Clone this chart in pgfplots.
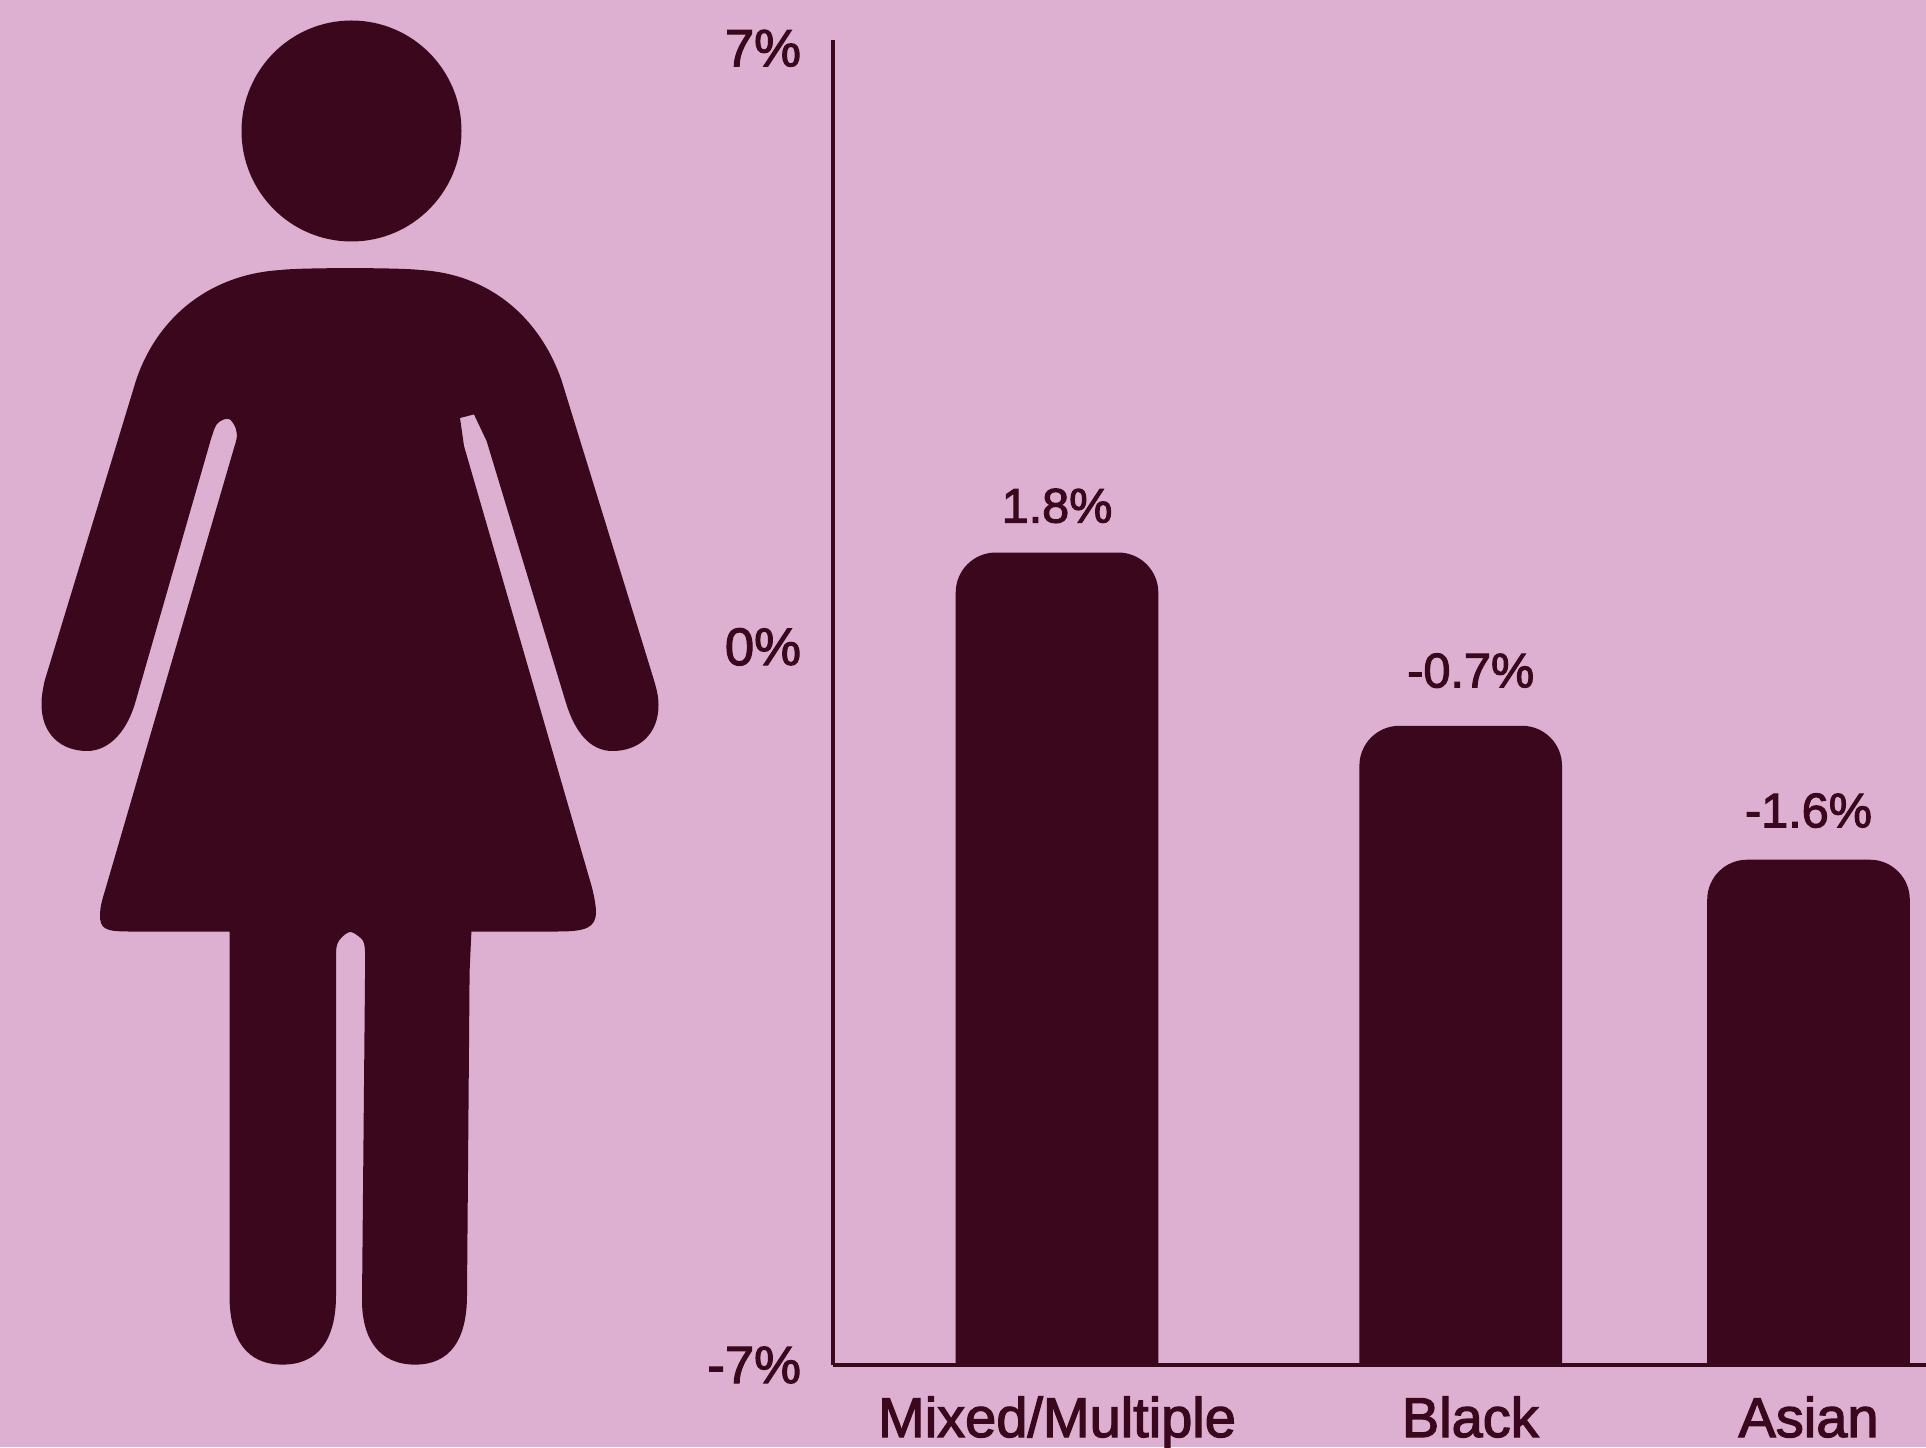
\documentclass[border=0pt]{standalone}
\usepackage{fontspec}
\setmainfont{Liberation Sans}[FakeBold=2.2]
\usepackage{pgfplots}
\pgfplotsset{compat=1.18}
\definecolor{plum}{HTML}{DDB0D1}
\definecolor{ink}{HTML}{3A071C}
\begin{document}
\begin{tikzpicture}
  % page background, 1 unit of the figure scope = 0.5pt
  \path[use as bounding box, fill=plum] (0,0) rectangle (963pt,723.5pt);

  % pictogram of a woman
  \begin{scope}[x=0.5pt, y=-0.5pt, shift={(0pt,723.5pt)}]
    \fill[ink] (351.5,131) ellipse [x radius=110, y radius=110.5];
    \fill[ink]
      (281,270) .. controls (300,267.5) and (400,267.5) .. (420,270)
      .. controls (490,274) and (540,318) .. (561.6,380.5)
      -- (652.7,676)
      .. controls (656,687) and (658.5,695) .. (658.5,705)
      .. controls (658.5,735) and (638,751) .. (612.5,751)
      .. controls (590,751) and (575,732) .. (566,703)
      -- (486.6,441)
      -- (474,414.4) -- (460,418) -- (464,446)
      -- (591.5,885.8)
      .. controls (594,895) and (596,906) .. (596,912)
      .. controls (596,928) and (585,931.5) .. (558,931.5)
      -- (471.4,931.5) -- (469.6,971.6)
      -- (467,1295)
      .. controls (467,1340) and (450,1364.6) .. (415,1364.6)
      .. controls (380,1364.6) and (362,1340) .. (362,1300)
      -- (365.2,957)
      .. controls (365,945) and (364,941) .. (361.6,939)
      .. controls (356,933.5) and (352,932) .. (350.4,932)
      .. controls (348,932) and (343,935) .. (339,940.6)
      .. controls (336,945) and (336,950) .. (336,957)
      -- (336,1295.5)
      .. controls (336,1340) and (318,1364.6) .. (282.6,1364.6)
      .. controls (247,1364.6) and (229.5,1340) .. (229.5,1295.5)
      -- (229.5,931.5)
      -- (128,931.5)
      .. controls (104,931.5) and (100,928) .. (100,915)
      .. controls (100,908) and (102,900) .. (105,890.6)
      -- (234,448)
      .. controls (238,436) and (238,431) .. (233,423)
      .. controls (230,418) and (227,417) .. (219,422)
      .. controls (215,425) and (214,430) .. (211,439)
      -- (136,700)
      .. controls (128,730) and (110,751) .. (87,751)
      .. controls (62,751) and (41,735) .. (41.5,703)
      .. controls (41.5,697) and (43,688) .. (44.6,681)
      -- (136,380.5)
      .. controls (158,315) and (212,274) .. (281,270)
      -- cycle;
  \end{scope}

  \begin{axis}[
    at={(416.5pt,41pt)}, anchor=south west,
    scale only axis, width=546.5pt, height=662.25pt,
    xmin=833, xmax=1926,
    ymin=-7, ymax=7.08,
    % the vertical scale is drawn in stretches, joined at the stated values
    y coord trafo/.code={%
      \pgfmathparse{#1<-1.6 ? 100+(#1+7)*93.56 :
        (#1<-0.7 ? 605.2+(#1+1.6)*148.8 :
        (#1<0 ? 739.1+(#1+0.7)*112.7 :
        (#1<1.8 ? 818+#1*52.39 : 912.3+(#1-1.8)*96.96)))}%
    },
    axis lines=left, axis line style={-, draw=ink, line width=2pt},
    major tick length=0pt,
    xtick={1057,1470.3,1808.5},
    xticklabels={Mixed/Multiple,Black,Asian},
    ytick={-7,0,7},
    yticklabels={-7\%,0\%,7\%},
    xticklabel style={font=\fontsize{28}{28}\selectfont, text=ink, anchor=base, yshift=-36pt},
    yticklabel style={font=\fontsize{26.3}{26.3}\selectfont, text=ink, anchor=east, xshift=-12.5pt},
    clip=true,
    every node near coord/.append style={font=\fontsize{24.3}{24.3}\selectfont, text=ink, anchor=base},
    bar outline/.style={fill=ink, draw=none, mark=none, rounded corners=20pt},
    bar label/.style={draw=none, mark=none, point meta=explicit symbolic, nodes near coords},
  ]
    % each bar runs on below the axis floor, where its lower corners are clipped off
    \addplot[bar outline] coordinates {(955.7,-7.5) (955.7,1.8) (1158.3,1.8) (1158.3,-7.5)};
    \addplot[bar outline] coordinates {(1359.4,-7.5) (1359.4,-0.7) (1562,-0.7) (1562,-7.5)};
    \addplot[bar outline] coordinates {(1707.2,-7.5) (1707.2,-1.6) (1909.8,-1.6) (1909.8,-7.5)};

    \addplot[bar label, every node near coord/.append style={yshift=15pt}]
      coordinates {(1057,1.8)[1.8\%]};
    \addplot[bar label, every node near coord/.append style={yshift=19.2pt, xshift=5pt}]
      coordinates {(1460.7,-0.7)[-0.7\%]};
    \addplot[bar label, every node near coord/.append style={yshift=16.2pt}]
      coordinates {(1808.5,-1.6)[-1.6\%]};
  \end{axis}
\end{tikzpicture}
\end{document}
